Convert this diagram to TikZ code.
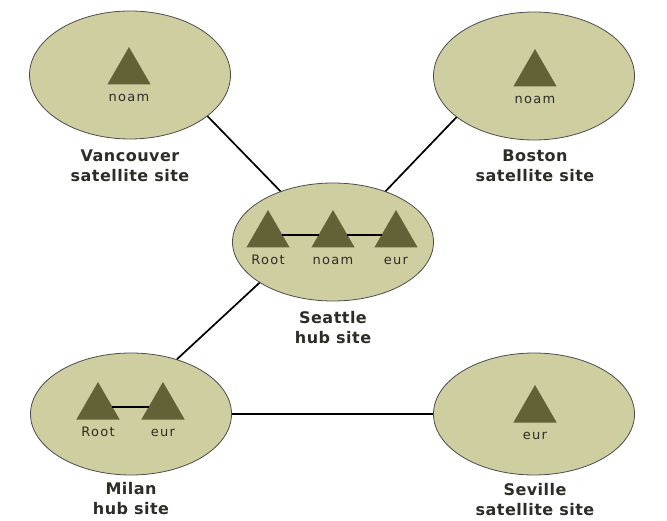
\documentclass[tikz,border=0pt]{standalone}
\usepackage{fontspec}
\setmainfont{DejaVu Sans}
\newfontfamily\namefont[LetterSpace=3]{DejaVu Sans}
\newfontfamily\domfont[LetterSpace=10]{DejaVu Sans}
\usetikzlibrary{shapes.geometric}
\definecolor{sitefill}{RGB}{207,206,160}
\definecolor{domdark}{RGB}{99,97,54}
\definecolor{textdark}{RGB}{45,45,40}

\begin{document}
\begin{tikzpicture}[
    x=1pt, y=-1pt,
    site/.style={ellipse, draw=black!70, line width=0.8pt, fill=sitefill,
        minimum width=201pt, minimum height=128pt, inner sep=0pt},
    dom/.style={regular polygon, regular polygon sides=3, fill=domdark,
        minimum size=50pt, inner sep=0pt, outer sep=0pt,
        label={[domlbl]below:#1}},
    domlbl/.style={font=\domfont\fontsize{13}{15}\selectfont, text=textdark,
        text height=9pt, text depth=2pt, inner sep=1pt, yshift=-7pt},
    sitename/.style={font=\namefont\bfseries\fontsize{16}{20}\selectfont,
        text=textdark, align=center, inner sep=0pt},
    link/.style={draw=black, line width=1.7pt},
    trust/.style={draw=black, line width=1.2pt}
]
\useasboundingbox (0,0) rectangle (667,521);

% sites
\node[site] (van) at (130,75) {};
\node[site] (bos) at (534,76) {};
\node[site, minimum height=118pt] (sea) at (333,242) {};
\node[site, minimum height=122pt] (mil) at (131,414) {};
\node[site, minimum height=122pt] (sev) at (534,414) {};

\draw[link] (van.-28) -- (sea.136);
\draw[link] (bos.208) -- (sea.44);
\draw[link] (sea.209) -- (mil.50);
\draw[link] (mil) -- (sev);

% domains
\node[dom=noam] (vannoam) at (129,72) {};
\node[dom=noam] (bosnoam) at (535,74) {};
\node[dom=Root] (searoot) at (268,235) {};
\node[dom=noam] (seanoam) at (333,235) {};
\node[dom=eur] (seaeur) at (396,235) {};
\node[dom=Root] (milroot) at (98,407) {};
\node[dom=eur] (mileur) at (163,407) {};
\node[dom=eur] (seveur) at (535,410) {};

\draw[trust] (searoot) -- (seanoam) -- (seaeur);
\draw[trust, line width=1.8pt] (milroot) -- (mileur);

% site names
\node[sitename] (vanname) at (130,166) {Vancouver\\satellite site};
\node[sitename] (bosname) at (535,166) {Boston\\satellite site};
\node[sitename] (seaname) at (333,328) {Seattle\\hub site};
\node[sitename] (milname) at (131,499) {Milan\\hub site};
\node[sitename] (sevname) at (535,500) {Seville\\satellite site};
\end{tikzpicture}
\end{document}
